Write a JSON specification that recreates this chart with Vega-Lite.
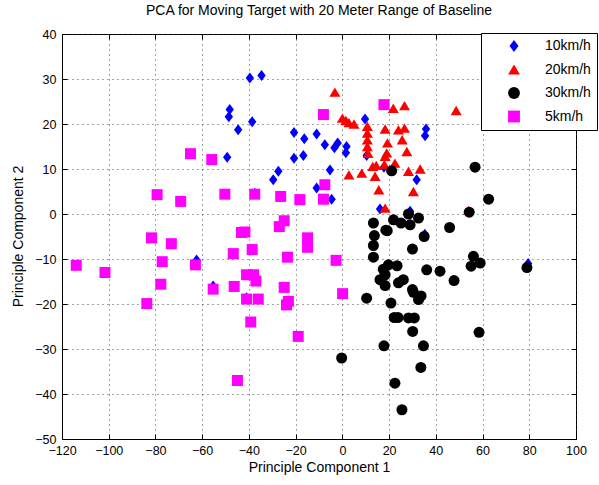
{
  "$schema": "https://vega.github.io/schema/vega-lite/v6.json",
  "width": 514,
  "height": 405,
  "autosize": {"type": "none"},
  "padding": {"left": 62, "top": 34, "right": 23, "bottom": 46},
  "background": "white",
  "title": {"text": "PCA for Moving Target with 20 Meter Range of Baseline", "font": "Liberation Sans", "fontSize": 14, "fontWeight": "normal", "color": "black", "anchor": "middle", "offset": 10},
  "config": {
    "view": {"stroke": "black", "strokeWidth": 1},
    "axis": {"labelFont": "Liberation Sans", "labelFontSize": 12.5, "labelColor": "black", "titleFont": "Liberation Sans", "titleFontSize": 14, "titleFontWeight": "normal", "titleColor": "black", "domainColor": "black", "tickColor": "black", "tickSize": -5, "gridColor": "#333", "gridDash": [1, 4], "gridOpacity": 0.9}
  },
  "data": {"values": [
    {"pc1": -48.2, "pc2": 23.2, "speed": "10km/h"},
    {"pc1": -48.6, "pc2": 21.6, "speed": "10km/h"},
    {"pc1": -44.6, "pc2": 18.7, "speed": "10km/h"},
    {"pc1": -49.3, "pc2": 12.6, "speed": "10km/h"},
    {"pc1": -39.6, "pc2": 30.2, "speed": "10km/h"},
    {"pc1": -34.6, "pc2": 30.8, "speed": "10km/h"},
    {"pc1": -38.6, "pc2": 20.5, "speed": "10km/h"},
    {"pc1": -20.7, "pc2": 18.1, "speed": "10km/h"},
    {"pc1": -16.3, "pc2": 16.7, "speed": "10km/h"},
    {"pc1": -11.0, "pc2": 17.8, "speed": "10km/h"},
    {"pc1": -7.5, "pc2": 15.4, "speed": "10km/h"},
    {"pc1": -3.4, "pc2": 14.7, "speed": "10km/h"},
    {"pc1": -2.0, "pc2": 15.8, "speed": "10km/h"},
    {"pc1": 1.8, "pc2": 15.0, "speed": "10km/h"},
    {"pc1": 1.5, "pc2": 13.6, "speed": "10km/h"},
    {"pc1": -20.7, "pc2": 12.4, "speed": "10km/h"},
    {"pc1": -16.7, "pc2": 13.0, "speed": "10km/h"},
    {"pc1": -27.4, "pc2": 9.5, "speed": "10km/h"},
    {"pc1": -29.6, "pc2": 7.6, "speed": "10km/h"},
    {"pc1": -5.3, "pc2": 9.8, "speed": "10km/h"},
    {"pc1": 9.7, "pc2": 21.1, "speed": "10km/h"},
    {"pc1": 10.4, "pc2": 13.0, "speed": "10km/h"},
    {"pc1": 17.8, "pc2": 10.4, "speed": "10km/h"},
    {"pc1": 35.8, "pc2": 18.9, "speed": "10km/h"},
    {"pc1": 35.4, "pc2": 17.4, "speed": "10km/h"},
    {"pc1": -11.0, "pc2": 5.8, "speed": "10km/h"},
    {"pc1": -4.6, "pc2": 3.3, "speed": "10km/h"},
    {"pc1": 16.1, "pc2": 1.1, "speed": "10km/h"},
    {"pc1": -62.4, "pc2": -10.2, "speed": "10km/h"},
    {"pc1": -55.3, "pc2": -16.0, "speed": "10km/h"},
    {"pc1": 31.8, "pc2": 7.6, "speed": "10km/h"},
    {"pc1": 29.0, "pc2": 0.6, "speed": "10km/h"},
    {"pc1": -37.5, "pc2": 4.6, "speed": "10km/h"},
    {"pc1": -41.0, "pc2": -18.6, "speed": "10km/h"},
    {"pc1": 35.3, "pc2": -4.5, "speed": "10km/h"},
    {"pc1": 79.5, "pc2": -11.0, "speed": "10km/h"},
    {"pc1": -3.2, "pc2": 27.1, "speed": "20km/h"},
    {"pc1": 0.0, "pc2": 21.3, "speed": "20km/h"},
    {"pc1": 1.5, "pc2": 20.8, "speed": "20km/h"},
    {"pc1": 2.8, "pc2": 20.3, "speed": "20km/h"},
    {"pc1": 5.0, "pc2": 20.0, "speed": "20km/h"},
    {"pc1": 10.7, "pc2": 19.5, "speed": "20km/h"},
    {"pc1": 10.7, "pc2": 18.0, "speed": "20km/h"},
    {"pc1": 10.7, "pc2": 16.5, "speed": "20km/h"},
    {"pc1": 10.7, "pc2": 15.0, "speed": "20km/h"},
    {"pc1": 11.0, "pc2": 13.5, "speed": "20km/h"},
    {"pc1": 18.3, "pc2": 18.9, "speed": "20km/h"},
    {"pc1": 19.3, "pc2": 15.8, "speed": "20km/h"},
    {"pc1": 21.8, "pc2": 23.5, "speed": "20km/h"},
    {"pc1": 26.6, "pc2": 24.1, "speed": "20km/h"},
    {"pc1": 48.7, "pc2": 23.0, "speed": "20km/h"},
    {"pc1": 24.0, "pc2": 18.7, "speed": "20km/h"},
    {"pc1": 26.6, "pc2": 19.1, "speed": "20km/h"},
    {"pc1": 25.6, "pc2": 16.5, "speed": "20km/h"},
    {"pc1": 19.0, "pc2": 13.6, "speed": "20km/h"},
    {"pc1": 27.6, "pc2": 13.9, "speed": "20km/h"},
    {"pc1": 22.5, "pc2": 11.3, "speed": "20km/h"},
    {"pc1": 18.3, "pc2": 12.8, "speed": "20km/h"},
    {"pc1": 2.8, "pc2": 8.7, "speed": "20km/h"},
    {"pc1": 8.3, "pc2": 9.1, "speed": "20km/h"},
    {"pc1": 13.0, "pc2": 10.6, "speed": "20km/h"},
    {"pc1": 14.5, "pc2": 10.8, "speed": "20km/h"},
    {"pc1": 18.0, "pc2": 11.0, "speed": "20km/h"},
    {"pc1": 14.0, "pc2": 8.4, "speed": "20km/h"},
    {"pc1": 15.6, "pc2": 5.4, "speed": "20km/h"},
    {"pc1": 18.3, "pc2": 1.3, "speed": "20km/h"},
    {"pc1": 28.3, "pc2": 9.5, "speed": "20km/h"},
    {"pc1": 33.3, "pc2": 10.0, "speed": "20km/h"},
    {"pc1": 30.4, "pc2": 5.0, "speed": "20km/h"},
    {"pc1": 54.0, "pc2": 0.8, "speed": "20km/h"},
    {"pc1": 21.1, "pc2": 9.6, "speed": "30km/h"},
    {"pc1": 56.8, "pc2": 10.4, "speed": "30km/h"},
    {"pc1": 62.6, "pc2": 3.3, "speed": "30km/h"},
    {"pc1": 54.3, "pc2": 0.4, "speed": "30km/h"},
    {"pc1": 28.3, "pc2": 0.0, "speed": "30km/h"},
    {"pc1": 32.6, "pc2": -0.9, "speed": "30km/h"},
    {"pc1": 21.9, "pc2": -1.3, "speed": "30km/h"},
    {"pc1": 25.1, "pc2": -2.0, "speed": "30km/h"},
    {"pc1": 29.0, "pc2": -2.4, "speed": "30km/h"},
    {"pc1": 19.2, "pc2": -3.7, "speed": "30km/h"},
    {"pc1": 45.9, "pc2": -3.0, "speed": "30km/h"},
    {"pc1": 35.0, "pc2": -5.0, "speed": "30km/h"},
    {"pc1": 30.0, "pc2": -7.8, "speed": "30km/h"},
    {"pc1": 13.3, "pc2": -2.0, "speed": "30km/h"},
    {"pc1": 18.6, "pc2": -3.6, "speed": "30km/h"},
    {"pc1": 13.7, "pc2": -4.8, "speed": "30km/h"},
    {"pc1": 13.3, "pc2": -7.0, "speed": "30km/h"},
    {"pc1": 13.3, "pc2": -9.6, "speed": "30km/h"},
    {"pc1": 19.7, "pc2": -11.3, "speed": "30km/h"},
    {"pc1": 23.4, "pc2": -11.5, "speed": "30km/h"},
    {"pc1": 36.1, "pc2": -12.4, "speed": "30km/h"},
    {"pc1": 41.8, "pc2": -12.7, "speed": "30km/h"},
    {"pc1": 47.8, "pc2": -14.8, "speed": "30km/h"},
    {"pc1": 56.1, "pc2": -9.4, "speed": "30km/h"},
    {"pc1": 59.0, "pc2": -10.9, "speed": "30km/h"},
    {"pc1": 55.1, "pc2": -11.6, "speed": "30km/h"},
    {"pc1": 79.0, "pc2": -11.9, "speed": "30km/h"},
    {"pc1": 18.3, "pc2": -13.5, "speed": "30km/h"},
    {"pc1": 17.5, "pc2": -12.3, "speed": "30km/h"},
    {"pc1": 16.1, "pc2": -14.6, "speed": "30km/h"},
    {"pc1": 26.1, "pc2": -14.6, "speed": "30km/h"},
    {"pc1": 24.0, "pc2": -15.3, "speed": "30km/h"},
    {"pc1": 18.3, "pc2": -15.9, "speed": "30km/h"},
    {"pc1": 30.0, "pc2": -16.8, "speed": "30km/h"},
    {"pc1": 30.4, "pc2": -17.4, "speed": "30km/h"},
    {"pc1": 33.7, "pc2": -18.2, "speed": "30km/h"},
    {"pc1": 32.6, "pc2": -19.0, "speed": "30km/h"},
    {"pc1": 20.8, "pc2": -19.8, "speed": "30km/h"},
    {"pc1": 10.4, "pc2": -18.7, "speed": "30km/h"},
    {"pc1": 22.2, "pc2": -23.0, "speed": "30km/h"},
    {"pc1": 23.8, "pc2": -23.0, "speed": "30km/h"},
    {"pc1": 28.3, "pc2": -23.1, "speed": "30km/h"},
    {"pc1": 30.8, "pc2": -23.1, "speed": "30km/h"},
    {"pc1": 30.1, "pc2": -26.1, "speed": "30km/h"},
    {"pc1": 58.5, "pc2": -26.3, "speed": "30km/h"},
    {"pc1": 17.8, "pc2": -29.3, "speed": "30km/h"},
    {"pc1": 34.7, "pc2": -29.3, "speed": "30km/h"},
    {"pc1": -0.3, "pc2": -32.0, "speed": "30km/h"},
    {"pc1": 33.6, "pc2": -34.1, "speed": "30km/h"},
    {"pc1": 22.5, "pc2": -37.6, "speed": "30km/h"},
    {"pc1": 25.5, "pc2": -43.5, "speed": "30km/h"},
    {"pc1": -65.0, "pc2": 13.4, "speed": "5km/h"},
    {"pc1": -55.9, "pc2": 12.1, "speed": "5km/h"},
    {"pc1": -8.1, "pc2": 22.1, "speed": "5km/h"},
    {"pc1": 17.8, "pc2": 24.3, "speed": "5km/h"},
    {"pc1": -79.3, "pc2": 4.3, "speed": "5km/h"},
    {"pc1": -69.2, "pc2": 2.8, "speed": "5km/h"},
    {"pc1": -50.3, "pc2": 4.4, "speed": "5km/h"},
    {"pc1": -81.7, "pc2": -5.3, "speed": "5km/h"},
    {"pc1": -73.2, "pc2": -6.6, "speed": "5km/h"},
    {"pc1": -113.9, "pc2": -11.4, "speed": "5km/h"},
    {"pc1": -101.6, "pc2": -13.0, "speed": "5km/h"},
    {"pc1": -77.1, "pc2": -10.6, "speed": "5km/h"},
    {"pc1": -62.9, "pc2": -11.3, "speed": "5km/h"},
    {"pc1": -77.7, "pc2": -15.6, "speed": "5km/h"},
    {"pc1": -55.3, "pc2": -16.7, "speed": "5km/h"},
    {"pc1": -46.3, "pc2": -16.1, "speed": "5km/h"},
    {"pc1": -46.7, "pc2": -8.8, "speed": "5km/h"},
    {"pc1": -83.7, "pc2": -19.9, "speed": "5km/h"},
    {"pc1": -43.2, "pc2": -4.1, "speed": "5km/h"},
    {"pc1": -37.5, "pc2": 4.4, "speed": "5km/h"},
    {"pc1": -26.4, "pc2": 3.9, "speed": "5km/h"},
    {"pc1": -18.2, "pc2": 3.2, "speed": "5km/h"},
    {"pc1": -7.5, "pc2": 6.5, "speed": "5km/h"},
    {"pc1": -8.1, "pc2": 3.3, "speed": "5km/h"},
    {"pc1": -24.9, "pc2": -1.5, "speed": "5km/h"},
    {"pc1": -27.0, "pc2": -2.8, "speed": "5km/h"},
    {"pc1": -41.7, "pc2": -4.0, "speed": "5km/h"},
    {"pc1": -14.9, "pc2": -5.3, "speed": "5km/h"},
    {"pc1": -14.9, "pc2": -7.4, "speed": "5km/h"},
    {"pc1": -38.6, "pc2": -7.9, "speed": "5km/h"},
    {"pc1": -23.5, "pc2": -9.6, "speed": "5km/h"},
    {"pc1": -2.7, "pc2": -10.3, "speed": "5km/h"},
    {"pc1": -41.0, "pc2": -13.5, "speed": "5km/h"},
    {"pc1": -38.0, "pc2": -13.5, "speed": "5km/h"},
    {"pc1": -37.0, "pc2": -14.9, "speed": "5km/h"},
    {"pc1": -24.9, "pc2": -16.3, "speed": "5km/h"},
    {"pc1": 0.1, "pc2": -17.7, "speed": "5km/h"},
    {"pc1": -41.0, "pc2": -18.9, "speed": "5km/h"},
    {"pc1": -36.0, "pc2": -18.9, "speed": "5km/h"},
    {"pc1": -23.1, "pc2": -19.4, "speed": "5km/h"},
    {"pc1": -23.9, "pc2": -20.2, "speed": "5km/h"},
    {"pc1": -39.2, "pc2": -24.0, "speed": "5km/h"},
    {"pc1": -18.9, "pc2": -27.2, "speed": "5km/h"},
    {"pc1": -44.9, "pc2": -37.0, "speed": "5km/h"}
  ]},
  "layer": [
    {
      "mark": {"type": "point", "filled": true, "opacity": 1, "size": 121},
      "encoding": {
        "x": {"field": "pc1", "type": "quantitative", "scale": {"domain": [-120, 100], "nice": false, "zero": false},
          "axis": {"orient": "bottom", "values": [-120, -100, -80, -60, -40, -20, 0, 20, 40, 60, 80, 100], "title": "Principle Component 1", "titleX": 257, "titleY": 28, "titleBaseline": "middle", "labelPadding": 10, "labelFlush": false, "labelOverlap": false}},
        "y": {"field": "pc2", "type": "quantitative", "scale": {"domain": [-50, 40], "nice": false, "zero": false},
          "axis": {"orient": "left", "values": [-50, -40, -30, -20, -10, 0, 10, 20, 30, 40], "title": "Principle Component 2", "titleX": -44, "titleY": 202, "titleAngle": -90, "titleBaseline": "middle", "titleAlign": "center", "labelPadding": 11, "labelFlush": false, "labelOverlap": false}},
        "color": {"field": "speed", "type": "nominal",
          "scale": {"domain": ["10km/h", "20km/h", "30km/h", "5km/h"], "range": ["#0000ff", "#ff0000", "#000000", "#ff00ff"]},
          "legend": {"title": null, "orient": "none", "legendX": 419, "legendY": -1, "strokeColor": "black", "fillColor": "white", "padding": 6, "rowPadding": 9.5, "symbolOffset": 20, "labelOffset": 24, "labelFont": "Liberation Sans", "labelFontSize": 14, "labelColor": "black", "symbolSize": 140, "symbolStrokeWidth": 0}},
        "shape": {"field": "speed", "type": "nominal",
          "scale": {"domain": ["10km/h", "20km/h", "30km/h", "5km/h"], "range": ["M0,-1L0.76,0L0,1L-0.76,0Z", "M0,-0.85L1,0.85L-1,0.85Z", "circle", "square"]},
          "legend": null}
      }
    },
    {
      "mark": {"type": "point", "opacity": 0},
      "encoding": {
        "x": {"field": "pc1", "type": "quantitative", "axis": {"orient": "top", "values": [-120, -100, -80, -60, -40, -20, 0, 20, 40, 60, 80, 100], "labels": false, "grid": false, "title": null, "domain": false}},
        "y": {"field": "pc2", "type": "quantitative", "axis": {"orient": "right", "values": [-50, -40, -30, -20, -10, 0, 10, 20, 30, 40], "labels": false, "grid": false, "title": null, "domain": false}}
      }
    }
  ],
  "resolve": {"axis": {"x": "independent", "y": "independent"}}
}
